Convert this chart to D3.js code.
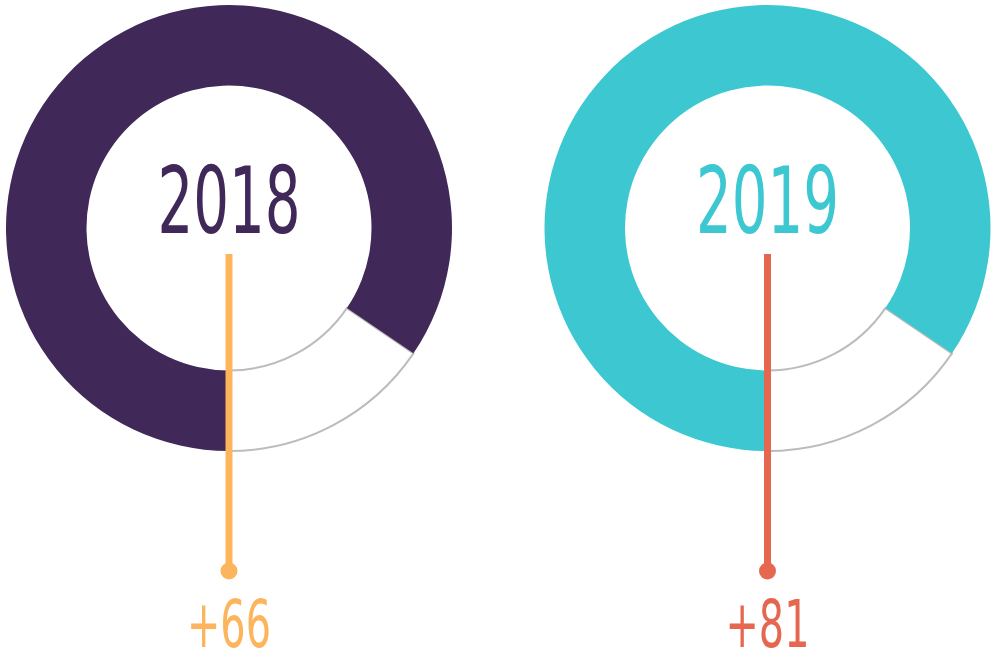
<!DOCTYPE html>
<html>
<head>
<meta charset="utf-8">
<script src="https://cdn.jsdelivr.net/npm/d3@7"></script>
<style>
  html, body { margin: 0; padding: 0; background: #fff; }
  svg { display: block; }
</style>
</head>
<body>
<div id="chart"></div>
<script>
// Data
const years = ['2018', '2019'];
const shares = [84.5, 84.5];        // percent of ring filled, starting at 6 o'clock
const changes = ['+66', '+81'];

// Styles
const ringColors = ['#402858', '#3cc7d1'];
const accentColors = ['#fdb55d', '#e5674f'];
const labelFont = '"DejaVu Sans Condensed", "Liberation Sans Narrow", sans-serif';

function draw() {
  let dimensions = {
    width: 1000,
    height: 663,
    cy: 228,
    outerR: 223,
    innerR: 142.5,
  };

  const svg = d3.select('#chart')
    .append('svg')
    .attr('width', dimensions.width)
    .attr('height', dimensions.height);

  // Scales
  const xScale = d3.scalePoint()
    .domain(years)
    .range([229, 767.5]);

  const angleScale = d3.scaleLinear()
    .domain([0, 100])
    .range([0, 2 * Math.PI]);

  const arc = d3.arc()
    .innerRadius(dimensions.innerR)
    .outerRadius(dimensions.outerR);

  const rows = years.map((y, i) => ({
    year: y,
    share: shares[i],
    change: changes[i],
    ring: ringColors[i],
    accent: accentColors[i],
  }));

  const groups = svg.selectAll('g.donut')
    .data(rows)
    .join('g')
    .attr('class', 'donut')
    .attr('transform', d => `translate(${xScale(d.year)}, ${dimensions.cy})`);

  // remaining part of the ring, outlined
  groups.append('path')
    .attr('d', d => arc({
      startAngle: Math.PI + angleScale(d.share),
      endAngle: 3 * Math.PI,
    }))
    .attr('fill', '#fff')
    .attr('stroke', '#bcbcbc')
    .attr('stroke-width', 2);

  // filled part
  groups.append('path')
    .attr('d', d => arc({
      startAngle: Math.PI,
      endAngle: Math.PI + angleScale(d.share),
    }))
    .attr('fill', d => d.ring);

  // year label
  groups.append('text')
    .attr('transform', 'translate(0, 5) scale(0.68, 1)')
    .attr('text-anchor', 'middle')
    .style('font-family', labelFont)
    .style('font-size', '92px')
    .attr('fill', d => d.ring)
    .text(d => d.year);

  // stem
  groups.append('line')
    .attr('x1', 0)
    .attr('x2', 0)
    .attr('y1', 26)
    .attr('y2', 343)
    .attr('stroke', d => d.accent)
    .attr('stroke-width', 7);

  groups.append('circle')
    .attr('cx', 0)
    .attr('cy', 343)
    .attr('r', 8.5)
    .attr('fill', d => d.accent);

  // change label
  groups.append('text')
    .attr('transform', 'translate(0, 419) scale(0.67, 1)')
    .attr('text-anchor', 'middle')
    .style('font-family', labelFont)
    .style('font-size', '66px')
    .attr('fill', d => d.accent)
    .text(d => d.change);
}

draw();
</script>
</body>
</html>
